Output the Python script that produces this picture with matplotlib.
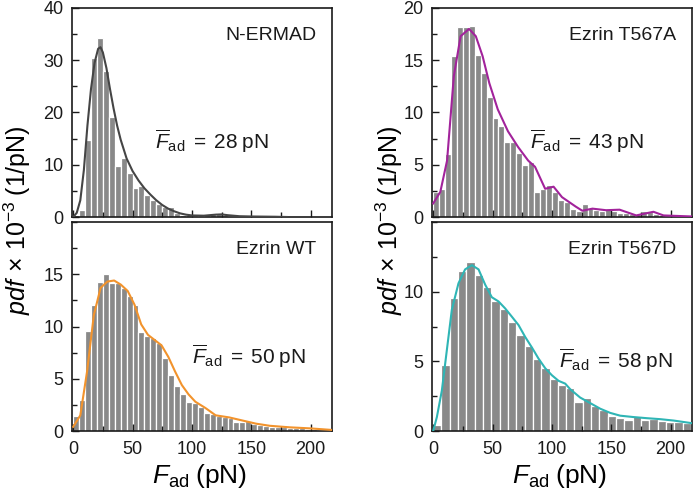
import numpy as np
import matplotlib
matplotlib.use("Agg")
import matplotlib.pyplot as plt
from matplotlib.ticker import MultipleLocator

plt.rcParams['font.family'] = ['Liberation Sans', 'DejaVu Sans']
plt.rcParams['mathtext.fontset'] = 'custom'
plt.rcParams['mathtext.rm'] = 'Liberation Sans'
plt.rcParams['mathtext.it'] = 'Liberation Sans:italic'
plt.rcParams['mathtext.bf'] = 'Liberation Sans:bold'

# ---- N-ERMAD ----
nermad_bin = 5
nermad_bars = [0.3, 1.3, 14.7, 30.4, 34.3, 27.9, 19.1, 9.8, 11.2, 8.5, 5.6, 6.0,
               4.2, 3.3, 2.4, 1.9, 1.9, 0.7, 0.4, 0.3, 0.3, 0.3, 0.4, 0.5, 0.8,
               0.3, 0.2, 0.1, 0.1, 0.1, 0.1, 0.1, 0.2, 0.2, 0.1, 0.0, 0.0, 0.0,
               0.0, 0.0, 0.0, 0.0, 0.0]
nermad_fx = [0, 3, 6, 9, 12, 15, 18, 21, 23, 25, 28, 31, 34, 37, 40, 45, 50, 55,
             60, 65, 70, 75, 80, 85, 90, 95, 100, 110, 120, 125, 130, 140, 150, 170, 180]
nermad_fy = [0, 0.8, 3.2, 9.0, 17.5, 24.5, 29.5, 32.2, 32.5, 31.5, 28.5, 24.5,
             20.8, 17.5, 14.8, 11.2, 8.8, 7.0, 5.5, 4.3, 3.2, 2.3, 1.6, 1.1, 0.7,
             0.45, 0.3, 0.25, 0.45, 0.5, 0.35, 0.15, 0.1, 0.05, 0.0]

# ---- Ezrin T567A ----
t567a_bin = 5
t567a_bars = [2.4, 2.7, 6.0, 15.4, 18.2, 18.2, 18.3, 15.5, 13.8, 11.5, 9.5, 8.7,
              7.2, 7.2, 6.1, 5.0, 5.3, 2.4, 2.7, 3.1, 2.4, 1.6, 1.4, 0.8, 0.6,
              1.2, 0.9, 0.7, 0.6, 0.8, 0.6, 0.4, 0.4, 0.3, 0.25, 0.55, 0.5, 0.25,
              0.15, 0.1, 0.1, 0.05, 0.05]
t567a_fx = [0, 6, 11.7, 17.4, 23.1, 30.2, 35.9, 41.6, 47.3, 54.4, 63, 71.5, 80,
            85.8, 94.3, 101.4, 108.5, 120, 125.6, 134.2, 145.6, 157, 171, 185.5,
            194, 218]
t567a_fy = [1.3, 2.4, 5.4, 13.5, 17.3, 18.0, 17.3, 15.4, 12.8, 10.3, 8.2, 6.7,
            5.4, 4.8, 2.7, 2.9, 1.9, 1.0, 0.6, 0.8, 0.65, 0.7, 0.15, 0.5, 0.15, 0.05]

# ---- Ezrin WT ----
wt_bin = 5
wt_bars = [1.4, 3.0, 9.6, 12.1, 14.3, 15.0, 14.2, 14.2, 13.7, 12.9, 12.1, 9.5,
           9.1, 8.9, 8.4, 7.0, 5.4, 4.3, 3.5, 2.8, 2.7, 2.3, 1.7, 1.6, 1.4, 1.3,
           1.2, 0.9, 0.9, 1.0, 0.65, 0.6, 0.5, 0.4, 0.4, 0.35, 0.3, 0.3, 0.25,
           0.2, 0.15, 0.12, 0.1]
wt_fx = [0, 6, 11.7, 17.4, 23.1, 28.8, 34.5, 40.2, 45.9, 51.6, 57.3, 63, 68.7,
         74.4, 80.1, 85.8, 91.5, 97.2, 102.9, 111.4, 120, 131.4, 142.7, 154.1,
         165.5, 182.6, 199.7, 218]
wt_fy = [0.4, 1.5, 5.7, 11.1, 13.7, 14.3, 14.4, 14.0, 13.4, 12.1, 10.2, 9.2,
         8.7, 8.2, 7.1, 5.7, 4.4, 3.5, 2.8, 2.2, 1.5, 1.3, 1.0, 0.7, 0.5, 0.35,
         0.25, 0.1]

# ---- Ezrin T567D ----
t567d_bin = 7
t567d_bars = [0.4, 4.77, 9.57, 11.45, 12.1, 11.2, 10.3, 9.3, 8.75, 7.8, 6.9, 6.1,
              5.2, 4.5, 3.7, 3.3, 3.1, 2.1, 2.4, 1.8, 1.5, 1.1, 0.9, 0.8, 1.1,
              0.8, 0.87, 0.7, 0.68, 0.65, 0.56]
t567d_fx = [0, 3.1, 7.3, 11.5, 15.7, 21.3, 26.9, 32.6, 38.2, 43.8, 49.4, 55,
            60.6, 66.3, 71.9, 77.5, 83.1, 88.7, 94.4, 100, 105.6, 111.2, 115.4,
            123.8, 132.3, 140.7, 149.1, 157.5, 168.8, 180, 191.2, 202.5, 218]
t567d_fy = [0, 1.0, 2.9, 5.8, 8.7, 10.6, 11.6, 11.9, 11.6, 10.5, 9.6, 9.3, 8.8,
            8.2, 7.6, 6.75, 6.0, 5.2, 4.5, 4.0, 3.6, 3.4, 3.0, 2.4, 2.0, 1.6, 1.3,
            1.1, 1.0, 0.92, 0.85, 0.75, 0.56]

panels = [
    dict(name='N-ERMAD', bw=nermad_bin, bars=nermad_bars, fx=nermad_fx, fy=nermad_fy,
         color='#454545', ylim=40, ticks=[0, 10, 20, 30, 40], minor=5, mean='28',
         pos=(72, 8), tx=0.32, ty=0.36, bottom=False),
    dict(name='Ezrin T567A', bw=t567a_bin, bars=t567a_bars, fx=t567a_fx, fy=t567a_fy,
         color='#a2239b', ylim=20, ticks=[0, 5, 10, 15, 20], minor=2.5, mean='43',
         pos=(432, 8), tx=0.375, ty=0.36, bottom=False),
    dict(name='Ezrin WT', bw=wt_bin, bars=wt_bars, fx=wt_fx, fy=wt_fy,
         color='#f2932c', ylim=20, ticks=[0, 5, 10, 15], minor=2.5, mean='50',
         pos=(72, 222), tx=0.46, ty=0.355, bottom=True),
    dict(name='Ezrin T567D', bw=t567d_bin, bars=t567d_bars, fx=t567d_fx, fy=t567d_fy,
         color='#2fb5b5', ylim=15, ticks=[0, 5, 10], minor=2.5, mean='58',
         pos=(432, 222), tx=0.49, ty=0.34, bottom=True),
]

W, H = 693, 492
fig = plt.figure(figsize=(W / 100, H / 100), dpi=100)
aw, ah = 260, 209

for p in panels:
    x0, y0 = p['pos']
    ax = fig.add_axes([x0 / W, 1 - (y0 + ah) / H, aw / W, ah / H])
    left_edges = np.arange(len(p['bars'])) * p['bw']
    ax.bar(left_edges, p['bars'], width=p['bw'], align='edge',
           color='#898989', edgecolor='white', linewidth=0.9, zorder=1)
    ax.plot(p['fx'], p['fy'], color=p['color'], lw=1.5, zorder=3)
    ax.set_xlim(-1, 218)
    ax.set_ylim(0, p['ylim'])
    ax.set_yticks(p['ticks'])
    ax.yaxis.set_minor_locator(MultipleLocator(p['minor']))
    ax.xaxis.set_major_locator(MultipleLocator(50))
    ax.xaxis.set_minor_locator(MultipleLocator(25))
    ax.tick_params(which='both', direction='in', top=False, right=False,
                   labelsize=13, width=1.0, colors='#1a1a1a')
    ax.tick_params(axis='x', which='both', pad=7)
    ax.tick_params(axis='y', which='both', pad=6)
    ax.tick_params(which='major', length=5)
    ax.tick_params(which='minor', length=3.5)
    if not p['bottom']:
        ax.tick_params(labelbottom=False)
    for s in ax.spines.values():
        s.set_linewidth(1.2)
        s.set_color('#1a1a1a')
    ax.text(0.94, 0.87, p['name'], transform=ax.transAxes, ha='right', va='center',
            fontsize=14, color='#1a1a1a')
    ax.text(p['tx'], p['ty'],
            r'$\overline{F}_{\mathrm{ad}}\;=\;' + p['mean'] + r'\;\mathrm{pN}$',
            transform=ax.transAxes, ha='left', va='center', fontsize=15, color='#1a1a1a')

ylab = r'$pdf\,\times\,10^{-3}\;(1/\mathrm{pN})$'
fig.text(17 / W, 1 - 220 / H, ylab, rotation=90, ha='center', va='center', fontsize=18)
fig.text(389 / W, 1 - 220 / H, ylab, rotation=90, ha='center', va='center', fontsize=18)
xlab = r'$F_{\mathrm{ad}}\;(\mathrm{pN})$'
fig.text(200 / W, 1 - 476 / H, xlab, ha='center', va='center', fontsize=19)
fig.text(560 / W, 1 - 476 / H, xlab, ha='center', va='center', fontsize=19)

fig.savefig('out.png', dpi=100)
